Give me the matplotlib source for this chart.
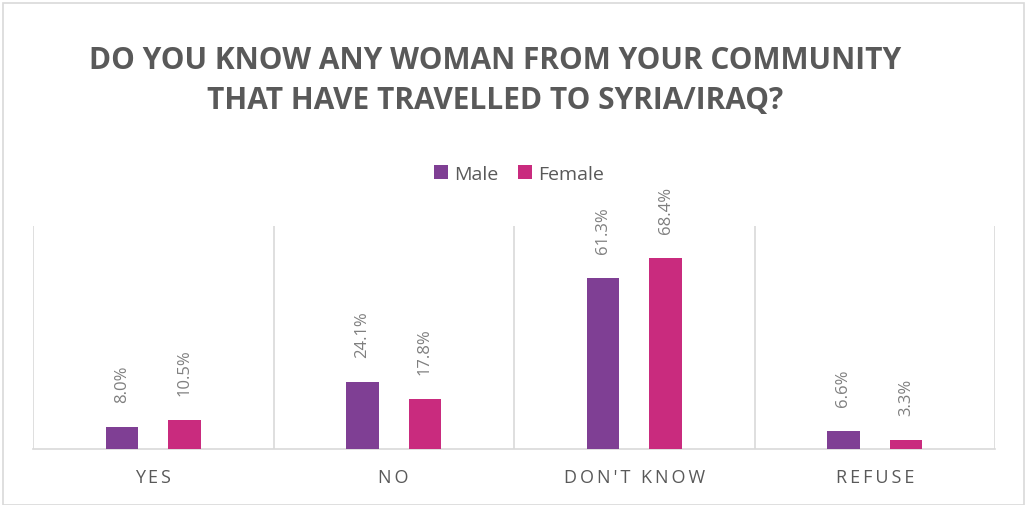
import matplotlib
matplotlib.use("Agg")
import matplotlib.pyplot as plt
from matplotlib.patches import Rectangle
import numpy as np

categories = ["YES", "NO", "DON'T KNOW", "REFUSE"]
series_names = ["Male", "Female"]
male = [8.0, 24.1, 61.3, 6.6]
female = [10.5, 17.8, 68.4, 3.3]
title = "DO YOU KNOW ANY WOMAN FROM YOUR COMMUNITY\nTHAT HAVE TRAVELLED TO SYRIA/IRAQ?"

c_male = "#7F3F94"
c_female = "#C92B7E"
grid_c = "#D9D9D9"
text_c = "#595959"
label_c = "#7F7F7F"

plt.rcParams['font.family'] = ['Open Sans', 'DejaVu Sans']

W, H = 1027, 506
fig = plt.figure(figsize=(W/100, H/100), dpi=100)
fig.patches.append(Rectangle((3/W, 0), (W-6)/W, (H-4)/H, transform=fig.transFigure,
                             fill=False, edgecolor=grid_c, linewidth=1.2))

ax = fig.add_axes([33/W, (H-450)/H, (995-33)/W, (450-227)/H])
x = np.arange(len(categories))
bw = 0.137
off = 0.13
b1 = ax.bar(x - off, male, bw, color=c_male, label=series_names[0], zorder=3)
b2 = ax.bar(x + off, female, bw, color=c_female, label=series_names[1], zorder=3)

for bars, vals in ((b1, male), (b2, female)):
    for rect, v in zip(bars, vals):
        ax.annotate(f"{v:.1f}%", (rect.get_x() + rect.get_width()/2, v),
                    xytext=(0, 18), textcoords="offset points",
                    rotation=90, ha="center", va="bottom",
                    fontsize=12, color=label_c)

ax.set_xlim(-0.5, len(categories) - 0.5)
ax.set_ylim(0, 80)
for b in np.arange(-0.5, len(categories), 1.0):
    ax.axvline(b, color=grid_c, linewidth=1.2, zorder=1)
for s in ["top", "right", "left"]:
    ax.spines[s].set_visible(False)
ax.spines["bottom"].set_color(grid_c)
ax.spines["bottom"].set_linewidth(1.2)
ax.set_yticks([])
ax.set_xticks(x)
ax.set_xticklabels(["\u2009".join(list(c)) for c in categories],
                   fontsize=13, color=text_c)
ax.tick_params(axis="x", length=0, pad=14)

fig.text(495/W, 1 - 81/H, title, ha="center", va="center", fontsize=21.5,
         fontweight="bold", color=text_c, linespacing=1.42)

leg = fig.legend(handles=[b1, b2], loc="center", bbox_to_anchor=(519/W, 1 - 175/H),
                 ncol=2, frameon=False, fontsize=14, handlelength=0.75,
                 handleheight=0.75, handletextpad=0.3, columnspacing=1.0,
                 labelcolor=text_c)

fig.savefig("out.png", dpi=100)
